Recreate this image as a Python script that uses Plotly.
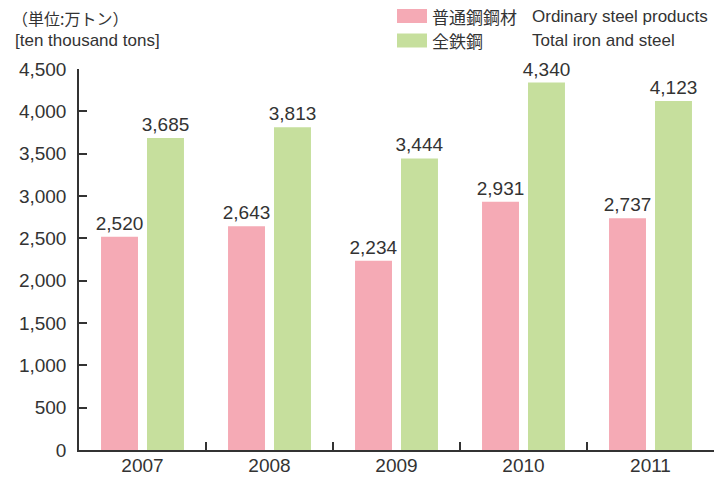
import plotly.graph_objects as go

years = ["2007", "2008", "2009", "2010", "2011"]
ordinary = [2520, 2643, 2234, 2931, 2737]
total = [3685, 3813, 3444, 4340, 4123]
names_jp = ["普通鋼鋼材", "全鉄鋼"]
names_en = ["Ordinary steel products", "Total iron and steel"]
colors = ["#F5AAB5", "#C6DF9D"]
y_ticks = [0, 500, 1000, 1500, 2000, 2500, 3000, 3500, 4000, 4500]

FONT = "Liberation Sans, Arial, Noto Sans CJK JP, sans-serif"
JFONT = "Noto Sans CJK JP, Liberation Sans, sans-serif"
TXT = "#333333"

fig = go.Figure()
for vals, nm, col in [(ordinary, names_jp[0], colors[0]), (total, names_jp[1], colors[1])]:
    fig.add_trace(go.Bar(
        x=years, y=vals, name=nm, marker=dict(color=col, line=dict(width=0)),
        texttemplate="%{y:,}", textposition="outside", cliponaxis=False,
        constraintext="none",
        textfont=dict(size=19, color=TXT, family=FONT), showlegend=False,
    ))

fig.update_layout(
    width=719, height=477,
    margin=dict(l=79, r=5, t=69, b=27, autoexpand=False),
    paper_bgcolor="white", plot_bgcolor="white",
    barmode="group", bargap=0.276, bargroupgap=0.196,
    font=dict(family=FONT, size=18, color=TXT),
)
fig.update_xaxes(
    type="category", tickson="boundaries", ticks="inside", ticklen=8,
    tickcolor=TXT, tickwidth=1.5, showline=True, linecolor=TXT, linewidth=1.5,
    showgrid=False, tickfont=dict(size=19, color=TXT), range=[-0.5, 4.5],
    automargin=False, ticklabelstandoff=-3,
)
fig.update_yaxes(
    range=[0, 4500], tickvals=y_ticks, tickformat=",", ticks="inside", ticklen=8,
    tickcolor=TXT, tickwidth=1.5, showline=True, linecolor=TXT, linewidth=1.5,
    showgrid=False, zeroline=False, tickfont=dict(size=19, color=TXT),
    ticklabelstandoff=7, automargin=False,
)

PW, PH = 635, 381
def px(x):
    return (x - 79) / PW
def py(y):
    return (450 - y) / PH

# unit title
fig.add_annotation(xref="paper", yref="paper", x=px(10), y=py(18), xanchor="left", yanchor="middle",
                   text="（単位:万トン）", showarrow=False, font=dict(family=JFONT, size=16, color=TXT))
fig.add_annotation(xref="paper", yref="paper", x=px(13), y=py(40), xanchor="left", yanchor="middle",
                   text="[ten thousand tons]", showarrow=False, font=dict(family=FONT, size=17, color=TXT))

# legend (drawn manually to match swatch size and column alignment)
for i in range(2):
    ycen = 16 + i * 24.5
    fig.add_shape(type="rect", xref="paper", yref="paper",
                  x0=px(397), x1=px(427), y0=py(ycen + 7), y1=py(ycen - 7),
                  fillcolor=colors[i], line=dict(width=0))
    fig.add_annotation(xref="paper", yref="paper", x=px(430), y=py(ycen), xanchor="left", yanchor="middle",
                       text=names_jp[i], showarrow=False, font=dict(family=JFONT, size=17, color=TXT))
    fig.add_annotation(xref="paper", yref="paper", x=px(530), y=py(ycen), xanchor="left", yanchor="middle",
                       text=names_en[i], showarrow=False, font=dict(family=FONT, size=17, color=TXT))

fig.write_html("out.html", config={"displayModeBar": False},
               post_script="document.body.style.margin='0';")
